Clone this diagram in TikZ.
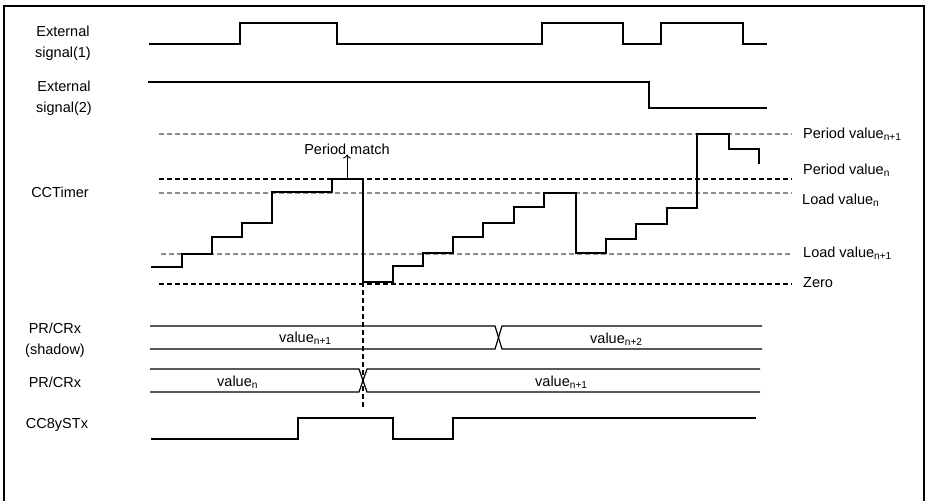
\documentclass[tikz,border=0pt]{standalone}
\usepackage{fontspec}
\setmainfont{Liberation Sans}
\usetikzlibrary{arrows.meta}
\begin{document}
\begin{tikzpicture}[x=1pt,y=-1pt,
  lbl/.style={font=\fontsize{14.5}{21}\selectfont, inner sep=0pt, align=center},
  rlbl/.style={font=\fontsize{14.5}{16}\selectfont, inner sep=0pt, anchor=west},
  sig/.style={line width=2pt, line join=miter},
  bus/.style={line width=1.2pt},
  gdash/.style={draw=black!45, line width=1.3pt, dash pattern=on 5pt off 3pt},
  bdash/.style={draw=black, line width=1.3pt, dash pattern=on 5pt off 3pt},
  frame/.style={line width=1.2pt}]
\useasboundingbox (0,0) rectangle (928,501);
\draw[frame] (4,501) -- (4,6) -- (924,6) -- (924,501);

% left labels
\node[lbl] (ext1) at (63,43) {External\\signal(1)};
\node[lbl] (ext2) at (64,98) {External\\signal(2)};
\node[lbl] (cct) at (60,192) {CCTimer};
\node[lbl] (prs) at (55,340) {PR/CRx\\(shadow)};
\node[lbl] (pr) at (55,382) {PR/CRx};
\node[lbl] (cc8) at (57,425) {CC8ySTx};

% external signals
\draw[sig] (149,44) -| (240,23) -| (337,44) -| (542,23) -| (623,44) -| (661,23) -| (743,44) -- (767,44);
\draw[sig] (148,82) -| (649,108) -- (767,108);

% reference levels
\draw[gdash] (159,134) -- (792,134);
\draw[bdash] (159,179) -- (792,179);
\draw[gdash] (159,193) -- (792,193);
\draw[gdash] (161,254) -- (792,254);
\draw[bdash] (159,284) -- (792,284);

\node[rlbl] (pv1) at (803,134) {Period value\textsubscript{n+1}};
\node[rlbl] (pv0) at (803,170) {Period value\textsubscript{n}};
\node[rlbl] (lv0) at (802,200) {Load value\textsubscript{n}};
\node[rlbl] (lv1) at (803,253) {Load value\textsubscript{n+1}};
\node[rlbl] (zero) at (803,283) {Zero};

% timer staircase
\draw[sig] (151,267) -| (182,254) -| (212,237) -| (242,223) -| (272,192) -| (332,179)
  -| (363,282) -| (393,266) -| (423,253) -| (453,237) -| (483,223) -| (514,207)
  -| (544,193) -| (576,253) -| (606,239) -| (636,224) -| (667,208) -| (697,134)
  -| (729,149) -| (759,164);

% period match
\node[lbl] (pm) at (347,149) {Period match};
\coordinate (pmfoot) at (347,179);
\draw[line width=0.9pt, -{To[length=4pt,width=8pt]}] (pmfoot) -- (pm.south);

% vertical dashed marker
\coordinate (vtop) at (363,282);
\coordinate (vbot) at (363,407);
\draw[bdash] (vtop) -- (vbot);

% shadow bus
\draw[bus] (150,326) -- (495,326) -- (502,349) -- (762,349);
\draw[bus] (150,349) -- (495,349) -- (502,326) -- (762,326);
\node[rlbl] (vs1) at (279,338) {value\textsubscript{n+1}};
\node[rlbl] (vs2) at (590,339) {value\textsubscript{n+2}};

% PR/CRx bus
\draw[bus] (150,369) -- (359,369) -- (367,392) -- (760,392);
\draw[bus] (150,392) -- (359,392) -- (367,369) -- (760,369);
\node[rlbl] (vp0) at (217,382) {value\textsubscript{n}};
\node[rlbl] (vp1) at (535,382) {value\textsubscript{n+1}};

% CC8ySTx
\draw[sig] (151,439) -| (298,418) -| (393,439) -| (453,418) -- (756,418);
\end{tikzpicture}
\end{document}
